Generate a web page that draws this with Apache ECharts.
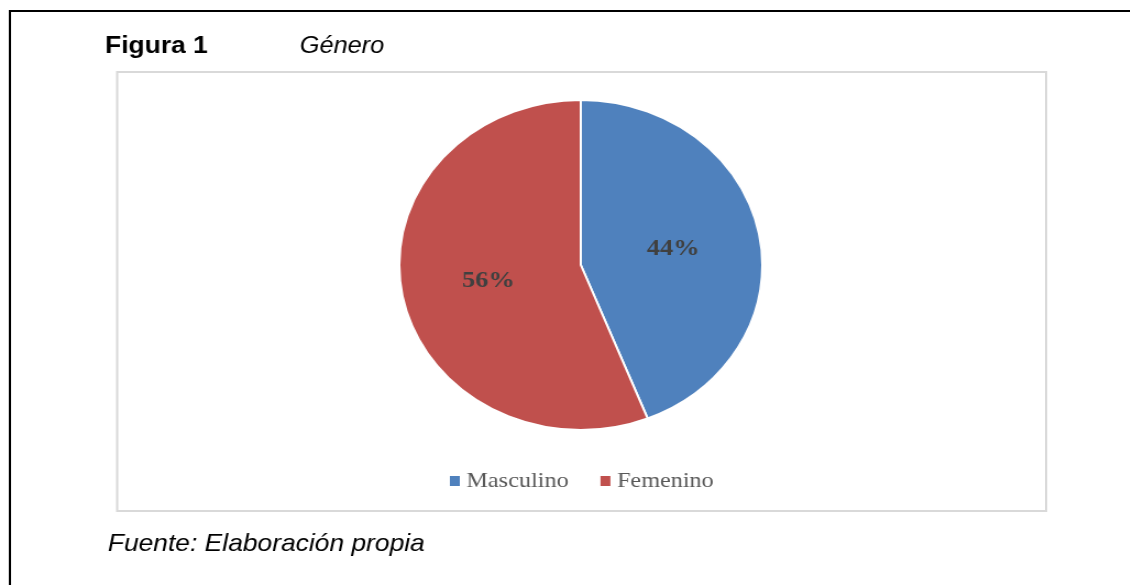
<!DOCTYPE html>
<html>
<head>
<meta charset="utf-8">
<script src="https://cdn.jsdelivr.net/npm/echarts@6/dist/echarts.min.js"></script>
<style>
  html, body { margin: 0; padding: 0; background: #fff; overflow: hidden; }
  /* the reference figure is stretched horizontally (~1.1x), so is this one */
  #main { width: 1027px; height: 585px; transform: scaleX(1.1); transform-origin: 0 0; }
</style>
</head>
<body>
<div id="main"></div>
<script>
  // data
  const categories = ["Masculino", "Femenino"];
  const values = [44, 56];
  const colors = ["#4F81BD", "#C0504D"];

  let myChart = echarts.init(document.getElementById("main"));

  const pieData = categories.map(function (name, i) {
    return { name: name, value: values[i], itemStyle: { color: colors[i] } };
  });

  let option = {
    backgroundColor: "#fff",
    animation: false,
    legend: {
      data: categories,
      top: 465,
      left: 402,
      itemWidth: 11,
      itemHeight: 12,
      itemGap: 27,
      icon: "rect",
      textStyle: {
        fontFamily: "Liberation Serif",
        fontSize: 22,
        color: "#595959"
      }
    },
    graphic: [
      // page frame (top + left)
      {
        type: "polyline",
        shape: { points: [[9, 585], [9, 11], [1030, 11]] },
        style: { stroke: "#000", lineWidth: 2, fill: null }
      },
      // chart area border
      {
        type: "rect",
        shape: { x: 106.5, y: 72, width: 844.5, height: 439 },
        style: { stroke: "#d9d9d9", lineWidth: 2, fill: null }
      },
      {
        type: "text",
        left: 95.5, top: 34,
        style: { text: "Figura 1", font: "bold 24px 'Liberation Sans', Arial", fill: "#000" }
      },
      {
        type: "text",
        left: 272.5, top: 35,
        style: { text: "Género", font: "italic 23px 'Liberation Sans', Arial", fill: "#000" }
      },
      {
        type: "text",
        left: 98, top: 532,
        style: { text: "Fuente: Elaboración propia", font: "italic 24px 'Liberation Sans', Arial", fill: "#000" }
      }
    ],
    series: [
      {
        type: "pie",
        center: [528, 265],
        radius: [0, 165],
        startAngle: 90,
        clockwise: true,
        data: pieData,
        itemStyle: { borderColor: "#fff", borderWidth: 2 },
        label: {
          position: "inside",
          formatter: "{c}%",
          fontFamily: "Liberation Serif",
          fontWeight: "bold",
          fontSize: 24,
          color: "#404040",
          padding: [8, 0, 0, 0]
        },
        labelLine: { show: false },
        emphasis: { disabled: true }
      }
    ]
  };

  option && myChart.setOption(option);
</script>
</body>
</html>
